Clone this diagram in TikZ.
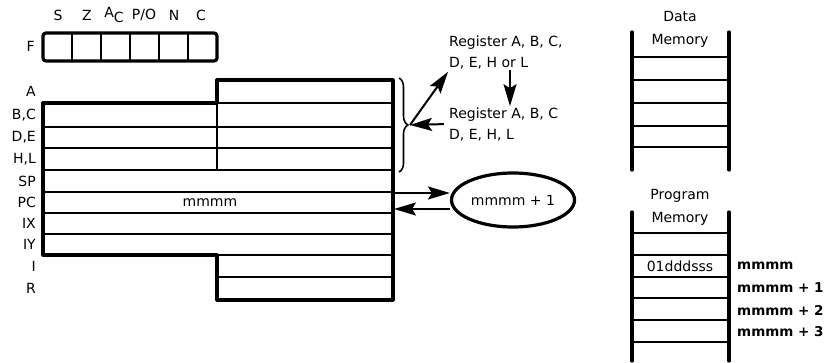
\documentclass[tikz,border=0pt]{standalone}
\usepackage{fontspec}
\setmainfont{DejaVu Sans}
\usetikzlibrary{arrows.meta,decorations.pathreplacing,shapes.geometric,positioning}

\tikzset{
  reglbl/.style={anchor=east, inner sep=1pt},
  heavy/.style={line width=3.2pt},
  rowline/.style={line width=2.2pt},
  flow/.style={-{Stealth[length=22pt,width=13pt,inset=4pt]}, line width=2pt},
  memtitle/.style={align=center, inner sep=1pt, font=\fontsize{14}{23}\selectfont},
  addr/.style={anchor=west, inner sep=1pt, font=\fontsize{13.5}{15}\selectfont\bfseries}
}

\begin{document}
\begin{tikzpicture}[x=1pt, y=-1pt, font=\fontsize{14}{21}\selectfont, line join=round]
\useasboundingbox (0,0) rectangle (829,363);

  % Flag register
  \draw[heavy, rounded corners=3pt] (43,33) rectangle (217,61);
  \foreach \xx in {72,101,130,159,188}
    \draw[rowline] (\xx,33) -- (\xx,61);
  \node[reglbl] (flagF) at (36,46) {F};
  \foreach \lbl/\xx [count=\i] in {S/58, Z/87, A\raisebox{-5pt}{C}/114, {P/O}/144, N/174, C/201}
    \node[inner sep=1pt] (flag\i) at (\xx,15) {\lbl};

  % Register file outline
  \draw[heavy] (43,103) -- (217,103) -- (217,80) -- (393,80) -- (393,300)
    -- (217,300) -- (217,255) -- (43,255) -- cycle;
  % Row dividers
  \foreach \yy in {127,148,170,192,213,234}
    \draw[rowline] (43,\yy) -- (393,\yy);
  \foreach \yy in {103,255,277}
    \draw[rowline] (217,\yy) -- (393,\yy);
  \draw[rowline] (217,103) -- (217,170);

  % Register names
  \foreach \lbl/\yy [count=\i] in {A/91.5, {B,C}/115, {D,E}/137.5, {H,L}/159,
      SP/181, PC/202.5, IX/223.5, IY/244.5, I/266, R/288.5}
    \node[reglbl] (reg\i) at (37,\yy) {\lbl};
  \node (pcval) at (210,202.5) {mmmm};

  % Brace over the general registers
  \draw[decorate, decoration={brace, amplitude=9pt}, line width=1.6pt]
    (399,78) -- (399,172);
  \coordinate (bracetip) at (410,125);

  % Source and destination registers
  \node[anchor=west, align=left, inner sep=1pt] (dstreg) at (448,52)
    {Register A, B, C,\\D, E, H or L};
  \node[anchor=west, align=left, inner sep=1pt] (srcreg) at (448,124)
    {Register A, B, C\\D, E, H, L};
  \draw[flow] (bracetip) -- ([yshift=-2pt]dstreg.south west);
  \draw[flow, shorten <=4pt] (srcreg.west) -- (bracetip);
  \draw[flow] ([xshift=62pt]dstreg.south west) -- ([xshift=62pt]srcreg.north west);

  % Program counter increment
  \node[ellipse, draw, heavy, minimum width=123pt, minimum height=54pt,
    inner sep=0pt] (pcinc) at (513,200) {mmmm + 1};
  \coordinate (pcout) at (393,193);
  \coordinate (pcback) at (394,209);
  \draw[flow] (pcout) -- (pcinc.west |- pcout);
  \draw[flow] (pcinc.west |- pcback) -- (pcback);

  % Data memory
  \node[memtitle] (datamem) at (680,29) {Data\\Memory};
  \draw[heavy, line cap=round] (632,32) -- (632,170);
  \draw[heavy, line cap=round] (729,32) -- (729,170);
  \foreach \yy in {57,80,103,126,147}
    \draw[rowline] (632,\yy) -- (729,\yy);

  % Program memory
  \node[memtitle] (progmem) at (680,207) {Program\\Memory};
  \draw[heavy, line cap=round] (632,212) -- (632,361);
  \draw[heavy, line cap=round] (729,212) -- (729,361);
  \foreach \yy in {233,255,277,298,320,342}
    \draw[rowline] (632,\yy) -- (729,\yy);
  \node (opcode) at (680,266) {01dddsss};
  \node[addr] (addr0) at (736,266) {mmmm};
  \node[addr] (addr1) at (736,288) {mmmm + 1};
  \node[addr] (addr2) at (736,310) {mmmm + 2};
  \node[addr] (addr3) at (736,332) {mmmm + 3};

\end{tikzpicture}
\end{document}
